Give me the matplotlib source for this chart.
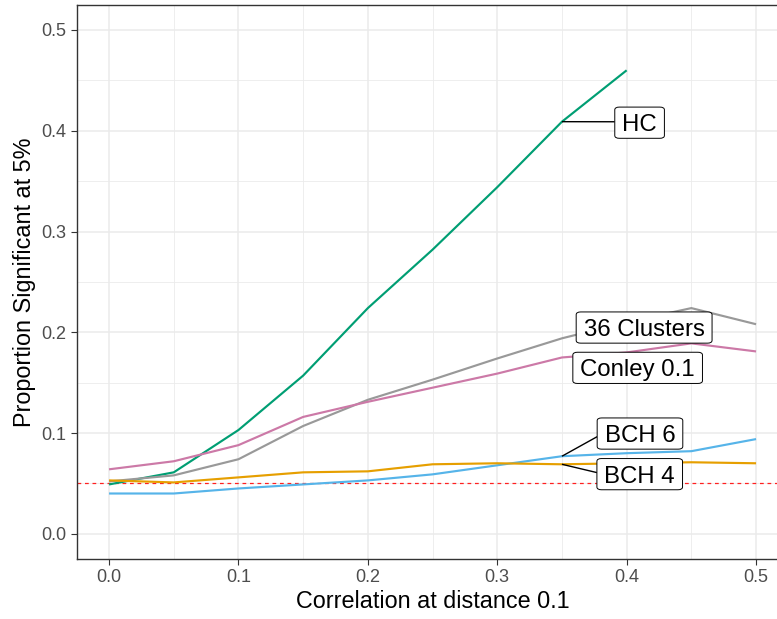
import matplotlib
matplotlib.use("Agg")
import matplotlib.pyplot as plt
from matplotlib.patches import FancyBboxPatch
import numpy as np

# ---- data ----
corr = [0.0, 0.05, 0.1, 0.15, 0.2, 0.25, 0.3, 0.35, 0.4, 0.45, 0.5]
hc = [0.049, 0.061, 0.103, 0.157, 0.224, 0.282, 0.344, 0.409, 0.460]
clusters36 = [0.052, 0.058, 0.074, 0.107, 0.133, 0.153, 0.174, 0.194, 0.210, 0.224, 0.208]
conley = [0.064, 0.072, 0.088, 0.116, 0.131, 0.145, 0.159, 0.175, 0.180, 0.189, 0.181]
bch6 = [0.040, 0.040, 0.045, 0.049, 0.053, 0.059, 0.068, 0.077, 0.080, 0.082, 0.094]
bch4 = [0.053, 0.051, 0.056, 0.061, 0.062, 0.069, 0.070, 0.069, 0.070, 0.071, 0.070]
series_names = ["HC", "36 Clusters", "Conley 0.1", "BCH 6", "BCH 4"]
colors = ["#009E73", "#999999", "#CC79A7", "#56B4E9", "#E69F00"]
nominal = 0.05

# label placement (box centers, data coords) and segment attachment on box
label_pos = {"HC": (0.410, 0.4080), "36 Clusters": (0.4135, 0.2047),
             "Conley 0.1": (0.4085, 0.1647), "BCH 6": (0.4103, 0.0995),
             "BCH 4": (0.4101, 0.0592)}
label_relpos = {"HC": (0, 0.53), "36 Clusters": None, "Conley 0.1": None,
                "BCH 6": (0, 0.4), "BCH 4": (0, 0.55)}
anchor_idx = 7

plt.rcParams['font.family'] = ['Liberation Sans', 'DejaVu Sans']

W, H = 777, 619
fig = plt.figure(figsize=(W / 100, H / 100), dpi=100)
left, right, top, bottom = 76.7, 788.4, 4.8, 559.0
ax = fig.add_axes([left / W, (H - bottom) / H, (right - left) / W, (bottom - top) / H])

ax.set_xlim(-0.025, 0.525)
ax.set_ylim(-0.025, 0.525)

# grid
grid_col = "#EBEBEB"
for v in np.arange(0.05, 0.5, 0.1):
    ax.axvline(v, color=grid_col, lw=0.6, zorder=0)
    ax.axhline(v, color=grid_col, lw=0.6, zorder=0)
for v in np.arange(0.0, 0.51, 0.1):
    ax.axvline(v, color=grid_col, lw=1.1, zorder=0)
    ax.axhline(v, color=grid_col, lw=1.1, zorder=0)

ax.axhline(nominal, color="#FF2020", lw=0.9, dashes=(3.0, 3.0), zorder=1)

all_series = [hc, clusters36, conley, bch6, bch4]
for name, ys, c in zip(series_names, all_series, colors):
    ax.plot(corr[:len(ys)], ys, color=c, lw=1.55, zorder=2, solid_capstyle='butt')

ax.set_xticks([0.0, 0.1, 0.2, 0.3, 0.4, 0.5])
ax.set_xticklabels(["0.0", "0.1", "0.2", "0.3", "0.4", "0.5"])
ax.set_yticks([0.0, 0.1, 0.2, 0.3, 0.4, 0.5])
ax.set_yticklabels(["0.0", "0.1", "0.2", "0.3", "0.4", "0.5"])
ax.tick_params(axis='both', colors='#333333', labelcolor='#4D4D4D', labelsize=13,
               length=4.3, width=0.8, pad=3.0)
for s in ax.spines.values():
    s.set_color('#333333')
    s.set_linewidth(1.0)

ax.set_xlabel("Correlation at distance 0.1", fontsize=16.8, labelpad=3)
ax.set_ylabel("Proportion Significant at 5%", fontsize=16.8, labelpad=4)

# ---- repel-style labels ----
label_fs = 17.3
fig.canvas.draw()
renderer = fig.canvas.get_renderer()
inv = ax.transData.inverted()
em_px = label_fs * 100 / 72
cap_px = 0.716 * em_px
padx, pady = 7.5, 7.0
for name, ys in zip(series_names, all_series):
    cx, cy = ax.transData.transform(label_pos[name])
    bx, by = inv.transform((cx, cy - cap_px / 2))
    t = ax.text(bx, by, name, ha='center', va='baseline', fontsize=label_fs,
                color='black', zorder=6)
    wpx = t.get_window_extent(renderer).width
    bw, bh = wpx + 2 * padx, cap_px + 2 * pady
    x0, y0 = inv.transform((cx - bw / 2, cy - bh / 2))
    x1, y1 = inv.transform((cx + bw / 2, cy + bh / 2))
    box = FancyBboxPatch((x0, y0), x1 - x0, y1 - y0,
                         boxstyle="round,pad=0,rounding_size=0.0035",
                         mutation_aspect=0.78, fc='white', ec='black', lw=0.7, zorder=5)
    ax.add_patch(box)
    rp = label_relpos[name]
    if rp is not None:
        ex, ey = inv.transform((cx - bw / 2 + rp[0] * bw, cy - bh / 2 + rp[1] * bh))
        ax.plot([corr[anchor_idx], ex], [ys[anchor_idx], ey], color='black', lw=1.0,
                zorder=4, solid_capstyle='butt')

fig.savefig("out.png", dpi=100)
